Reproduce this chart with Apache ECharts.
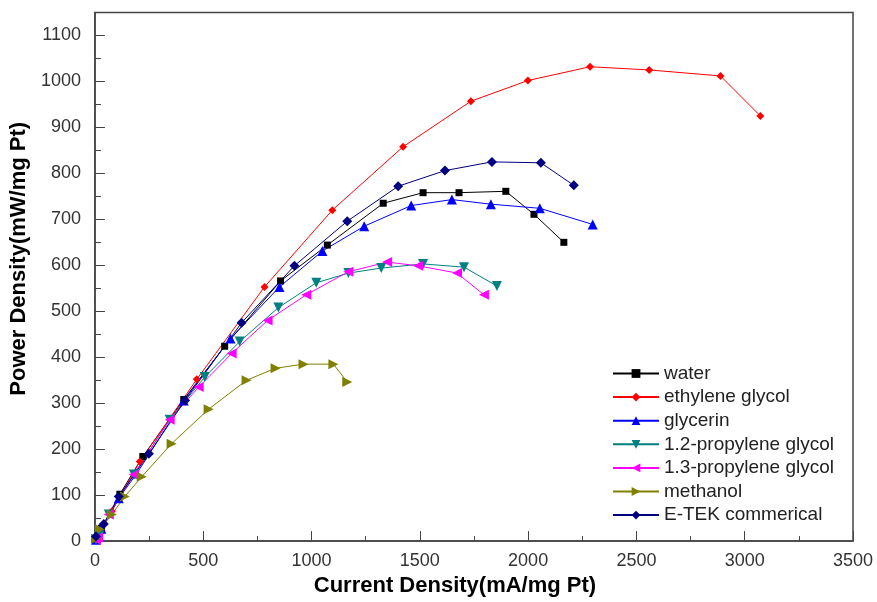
<!DOCTYPE html>
<html>
<head>
<meta charset="utf-8">
<script src="https://cdn.jsdelivr.net/npm/echarts@6/dist/echarts.min.js"></script>
<style>
  html, body { margin: 0; padding: 0; background: #fff; }
  #chart { width: 877px; height: 602px; }
</style>
</head>
<body>
<div id="chart"></div>
<script>
// values (current density mA/mg Pt, power density mW/mg Pt)
var waterX = [5, 30, 115, 221, 410, 599, 857, 1073, 1331, 1515, 1681, 1897, 2027, 2165];
var waterY = [3, 28, 102, 184, 308, 424, 566, 644, 735, 758, 758, 761, 711, 650];

var ethyleneX = [5, 20, 78, 207, 470, 783, 1096, 1423, 1736, 1999, 2286, 2559, 2888, 3072];
var ethyleneY = [3, 15, 65, 173, 352, 553, 720, 858, 957, 1002, 1032, 1025, 1012, 925];

var glycerinX = [5, 30, 110, 193, 410, 626, 852, 1050, 1243, 1460, 1648, 1828, 2054, 2298];
var glycerinY = [3, 27, 93, 147, 306, 441, 553, 631, 685, 730, 743, 733, 724, 689];

var pg12X = [5, 20, 64, 180, 345, 507, 668, 847, 1022, 1170, 1322, 1515, 1704, 1856];
var pg12Y = [3, 12, 58, 145, 264, 357, 434, 508, 562, 583, 594, 603, 596, 555];

var pg13X = [5, 15, 64, 180, 345, 479, 631, 797, 976, 1170, 1349, 1492, 1672, 1796];
var pg13Y = [3, 8, 58, 145, 264, 335, 408, 480, 536, 586, 607, 599, 583, 536];

var methanolX = [5, 23, 78, 138, 216, 354, 525, 700, 834, 963, 1101, 1165];
var methanolY = [5, 26, 58, 97, 140, 212, 287, 350, 376, 385, 385, 346];

var etekX = [5, 41, 110, 249, 416, 677, 921, 1165, 1400, 1616, 1833, 2059, 2211];
var etekY = [10, 37, 97, 190, 306, 475, 599, 696, 772, 806, 825, 823, 774];

function pairs(xs, ys) {
  return xs.map(function (x, i) { return [x, ys[i]]; });
}

function line(name, xs, ys, color, symbol, size, rotate) {
  return {
    name: name,
    type: 'line',
    data: pairs(xs, ys),
    symbol: symbol,
    symbolSize: size,
    symbolRotate: rotate || 0,
    showAllSymbol: true,
    lineStyle: { color: color, width: 1 },
    itemStyle: { color: color },
    emphasis: { disabled: true },
    z: 3
  };
}

var font = 'Liberation Sans, Arial, sans-serif';
var chart = echarts.init(document.getElementById('chart'));
chart.setOption({
  animation: false,
  backgroundColor: '#fff',
  grid: {
    left: 93, right: 24, top: 12.5, bottom: 57,
    show: true, borderColor: '#444', borderWidth: 1.5
  },
  legend: {
    orient: 'vertical',
    left: 607,
    top: 359,
    itemWidth: 46,
    itemHeight: 11,
    itemGap: 4.6,
    textStyle: { fontFamily: font, fontSize: 19, color: '#222' },
    data: ['water', 'ethylene glycol', 'glycerin', '1.2-propylene glycol',
           '1.3-propylene glycol', 'methanol', 'E-TEK commerical']
  },
  xAxis: {
    type: 'value',
    min: 0, max: 3500, interval: 500,
    name: 'Current Density(mA/mg Pt)',
    nameLocation: 'middle',
    nameGap: 32,
    nameTextStyle: { fontFamily: font, fontSize: 22, fontWeight: 'bold', color: '#000', padding: [0, 38, 0, 0] },
    axisLine: { lineStyle: { color: '#444', width: 1.5 } },
    axisTick: { inside: true, length: 10, lineStyle: { color: '#444' } },
    minorTick: { show: true, splitNumber: 2, length: 5, lineStyle: { color: '#444' } },
    axisLabel: {
      fontFamily: font, fontSize: 18, color: '#333', margin: 11,
      formatter: function (v) { return String(v); }
    },
    splitLine: { show: false }
  },
  yAxis: {
    type: 'value',
    min: 0, max: 1150, interval: 100,
    name: 'Power Density(mW/mg Pt)',
    nameLocation: 'middle',
    nameGap: 58,
    nameTextStyle: { fontFamily: font, fontSize: 22, fontWeight: 'bold', color: '#000', padding: [0, 0, 0, 36] },
    axisLine: { lineStyle: { color: '#444', width: 1.5 } },
    axisTick: { inside: true, length: 10, lineStyle: { color: '#444' } },
    minorTick: { show: true, splitNumber: 2, length: 6, lineStyle: { color: '#444' } },
    axisLabel: {
      fontFamily: font, fontSize: 18, color: '#333', margin: 14,
      formatter: function (v) { return v > 1100 ? '' : String(v); }
    },
    splitLine: { show: false }
  },
  series: [
    line('water', waterX, waterY, '#000000', 'rect', 7),
    line('ethylene glycol', ethyleneX, ethyleneY, '#ff0000', 'diamond', 8),
    line('glycerin', glycerinX, glycerinY, '#0000ff', 'triangle', 10),
    line('1.2-propylene glycol', pg12X, pg12Y, '#008080', 'triangle', 10, 180),
    line('1.3-propylene glycol', pg13X, pg13Y, '#ff00ff', 'triangle', 10, 90),
    line('methanol', methanolX, methanolY, '#808000', 'triangle', 10, -90),
    line('E-TEK commerical', etekX, etekY, '#000080', 'diamond', 10)
  ]
});
</script>
</body>
</html>
